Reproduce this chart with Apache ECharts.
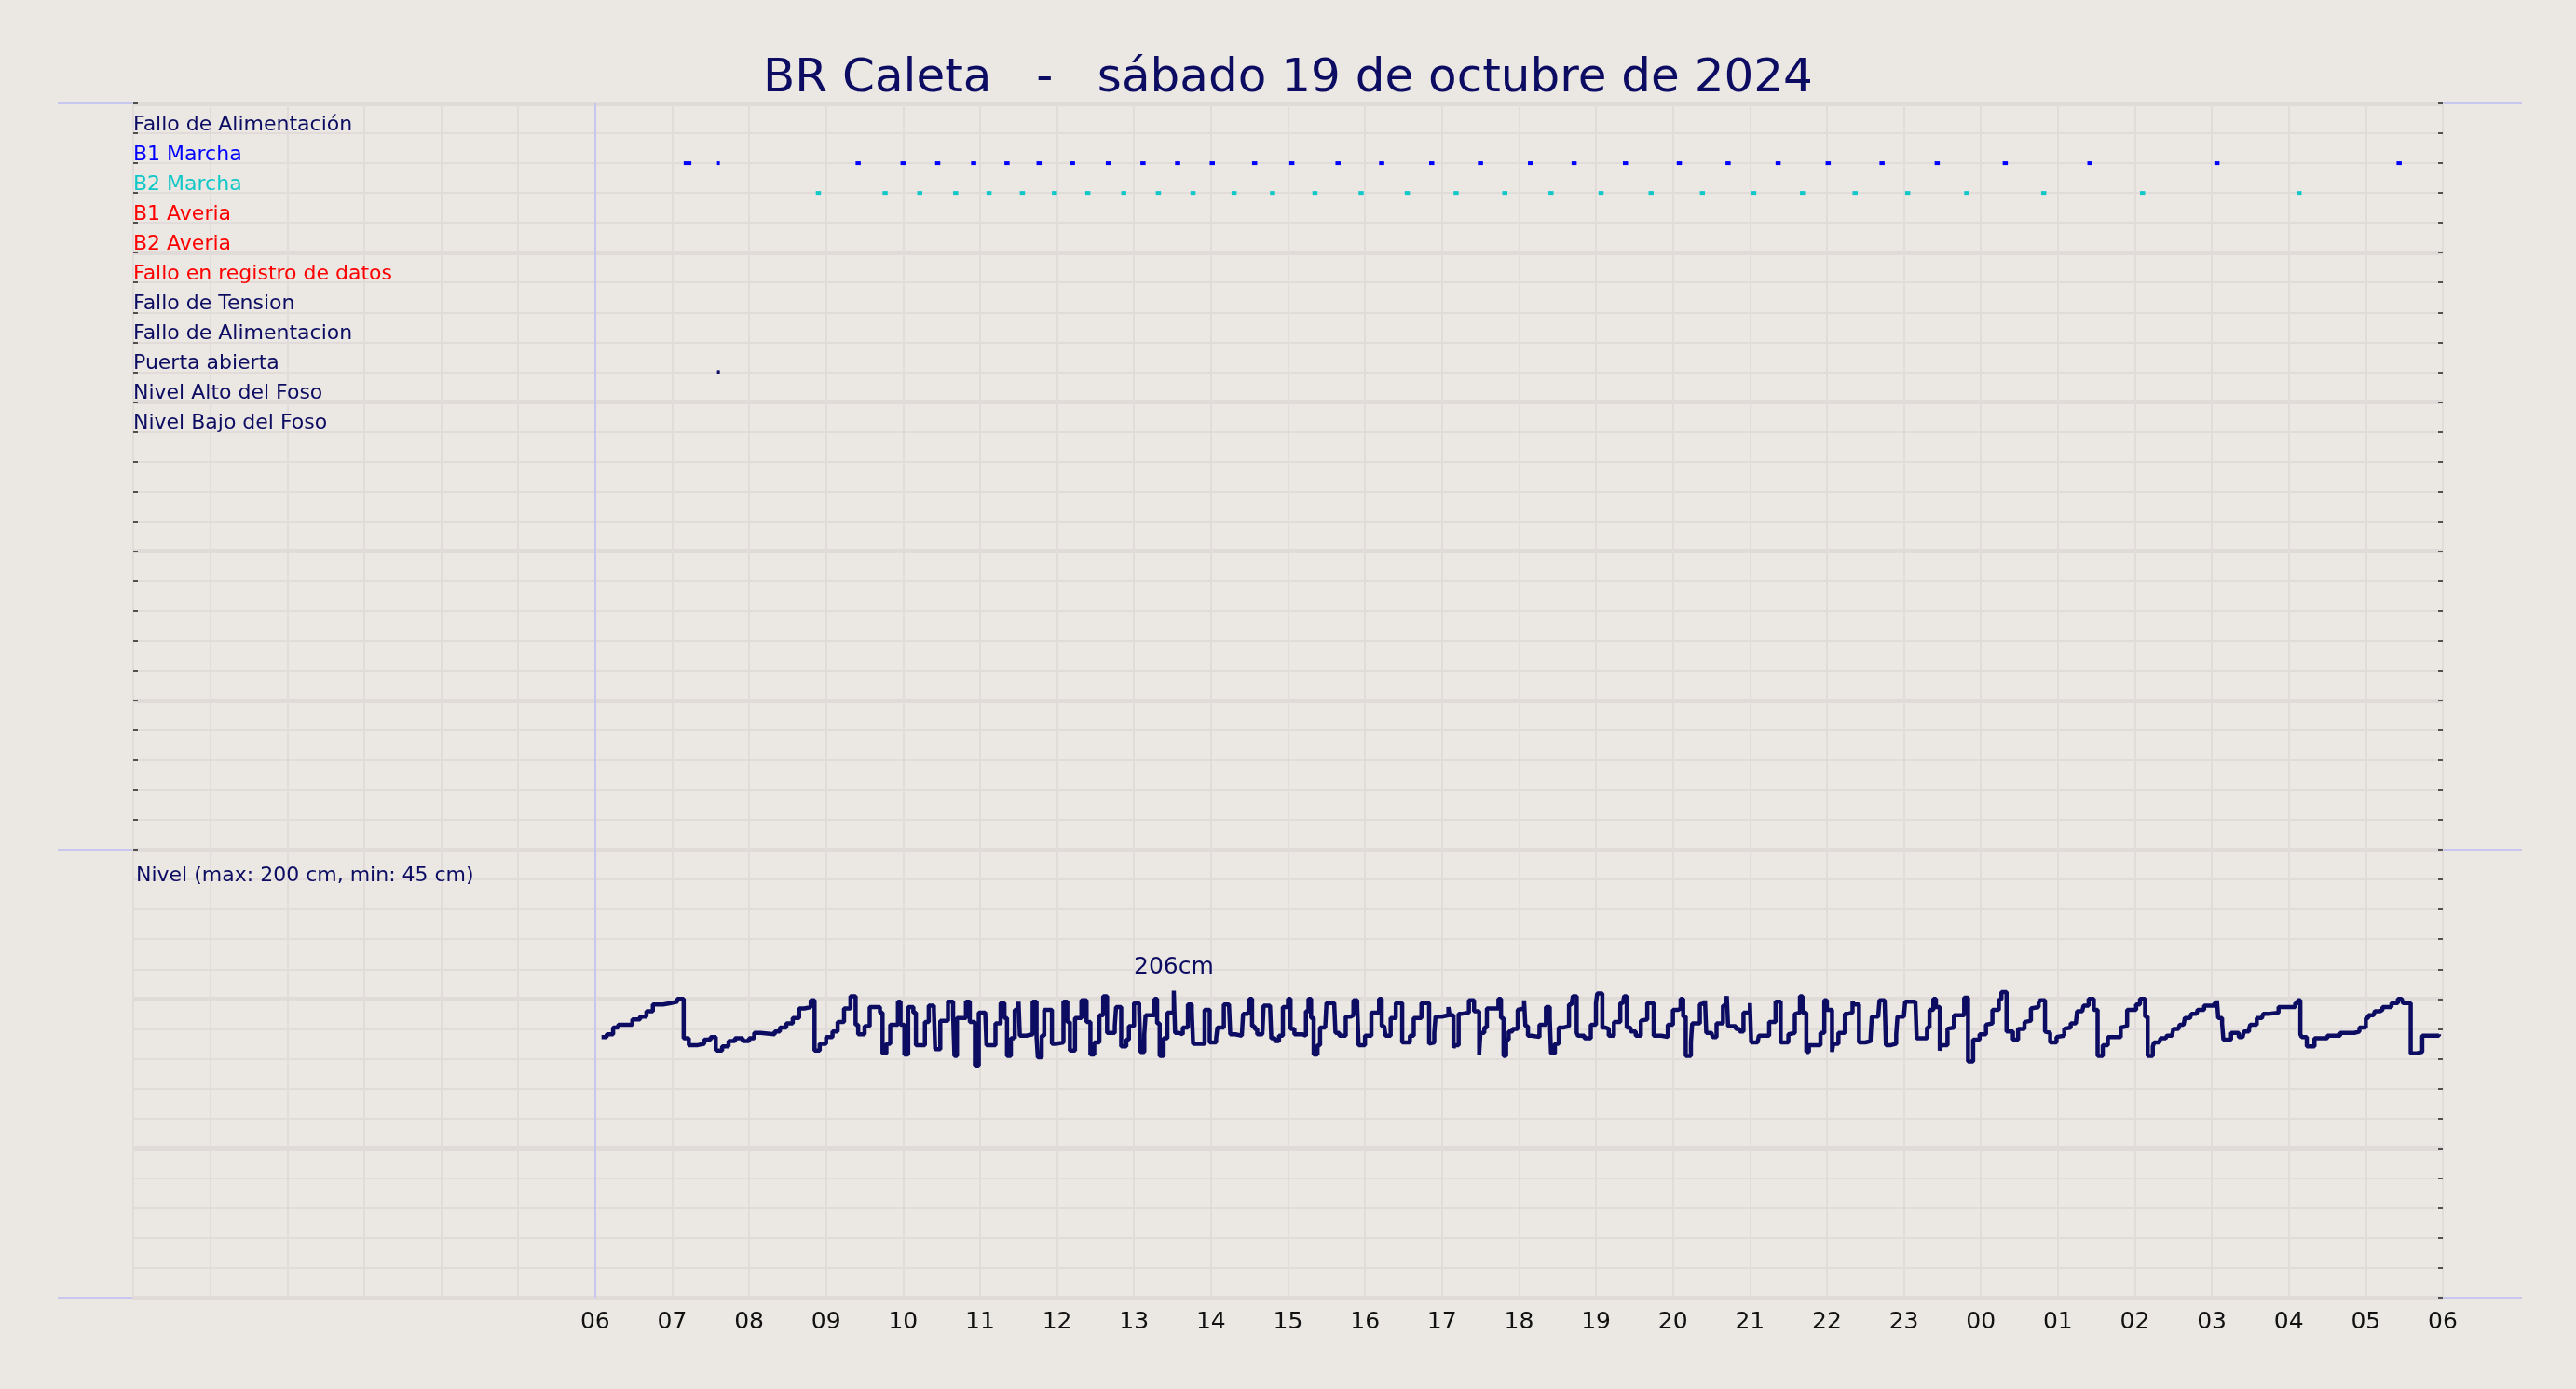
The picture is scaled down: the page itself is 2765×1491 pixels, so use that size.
<!DOCTYPE html>
<html><head><meta charset="utf-8">
<script src="https://cdn.jsdelivr.net/npm/echarts@6/dist/echarts.min.js"></script>
<style>html,body{margin:0;padding:0;background:#ebe7e2}#c{width:2765px;height:1491px}</style>
</head><body><div id="c"></div>
<script>
// time unit: minutes after 06:00 of 19 Oct 2024
const titleText = 'BR Caleta   -   sábado 19 de octubre de 2024';
const signalNames = ['Fallo de Alimentación','B1 Marcha','B2 Marcha','B1 Averia','B2 Averia','Fallo en registro de datos','Fallo de Tension','Fallo de Alimentacion','Puerta abierta','Nivel Alto del Foso','Nivel Bajo del Foso'];
const signalStyles = ['n','b','c','r','r','r','n','n','n','n','n'];
const b1Starts = [69,95,203,238,265,293,319,344,370,398,425,452,479,512,541,577,611,650,688,727,761,801,843,881,920,959,1001,1044,1097,1163,1262,1404];
const b1Durations = [6,2,4,4,4,4,4,4,4,4,4,4,4,4,4,4,4,4,4,4,4,4,4,4,4,4,4,4,4,4,4,4];
const b2Starts = [172,224,251,279,305,331,356,382,410,437,464,496,526,559,595,631,669,707,743,782,821,861,901,939,980,1021,1067,1127,1204,1326];
const b2Duration = 4;
const doorStarts = [95];
const doorDuration = 2;
const levelTimes = [5,9,14,18,29,35,40,45,53,59,64,69,73,80,85,90,94,99,104,109,115,120,124,129,140,144,149,154,159,163,168,171,175,180,185,189,194,199,203,205,210,214,222,224,227,230,236,238,241,244,248,250,255,257,260,264,265,269,273,275,279,280,282,289,292,296,299,304,305,309,312,316,319,321,324,327,330,331,336,341,344,345,348,350,354,356,359,365,368,370,374,379,383,386,389,393,396,399,402,405,406,410,414,416,420,424,425,428,429,434,436,438,440,443,446,451,452,455,458,462,465,466,471,
475,479,484,485,490,494,495,499,504,505,509,510,512,514,516,520,521,526,527,530,533,536,540,542,545,551,554,556,558,560,563,565,569,570,576,577,580,585,589,591,594,595,598,600,605,609,611,613,615,616,620,621,624,625,629,631,635,638,641,644,645,650,651,654,655,660,665,666,669,670,673,675,681,685,689,690,693,695,700,704,706,708,710,712,715,719,720,724,725,727,730,736,739,741,744,745,748,751,755,759,761,762,765,766,771,772,776,777,780,781,785,787,790,791,794,796,799,801,802,804,807,811,815,816,820,821,825,827,831,832,836,837,840,844,846,848,850,854,855,859,861,862,865,866,870,871,874,875,879,881,882,883,889,892,895,900,901,906,907,911,915,916,920,921,924,926,930,931,935,936,939,941,944,946,
955,958,960,964,965,969,970,974,976,980,981,985,990,994,995,1000,1001,1005,1006,1010,1014,1015,1020,1021,1029,1030,1034,1038,1040,1043,1045,1048,1049,1054,1055,1059,1060,1067,1070,1074,1075,1079,1080,1084,1085,1089,1090,1094,1095,1096,1100,1105,1106,1109,1110,1114,1115,1119,1120,1125,1126,1130,1131,1134,1135,1139,1140,1145,1146,1150,1154,1155,1159,1160,1162,1164,1168,1171,1175,1179,1185,1189,1190,1194,1195,1201,1202,1204,1208,1210,1214,1215,1219,1220,1224,1225,1229,1230,1234,1235,1238,1239,1243,1244,1248,1249,1252,1254,1259,1262,1264,1265,1268,1269,1273,1275,1279,1281,1284,1285,1289,1290,1293,1295,1299,1300,1304,1312,1320,1325,1327,1329,1330,1334,1340,1350,1360,1371,1375,1380,1382,1386,1387,1391,1393,1395,1400,1405,1408,1409,1415,1420,1424,1426,1437];
const levelValues = [172,174,179,181,185,187,191,196,197,198,200,171,166,167,170,172,162,165,169,171,169,171,175,174,176,179,182,186,193,194,199,162,167,172,176,183,193,202,181,174,180,194,190,160,167,181,198,181,159,194,190,166,166,183,195,192,163,184,184,198,188,158,186,198,183,151,190,189,166,166,182,197,186,158,171,192,198,173,174,198,172,157,173,192,192,167,168,198,183,162,186,199,183,159,168,188,202,175,175,180,194,165,170,180,197,192,161,174,188,188,200,182,158,171,190,206,175,174,179,196,191,167,167,
192,168,171,179,196,196,174,173,174,189,190,200,180,178,174,174,195,195,171,169,173,194,200,178,174,173,191,200,186,159,166,179,180,197,198,175,173,187,188,199,194,166,166,173,190,190,200,180,179,173,186,186,197,197,168,168,173,186,186,197,197,167,168,175,187,188,194,188,164,166,189,190,199,191,159,175,179,193,193,200,186,158,170,176,178,192,193,199,180,173,172,181,181,194,186,160,167,179,180,196,197,202,175,173,171,171,181,181,197,204,179,178,173,173,183,183,197,197,202,179,176,173,184,185,197,197,173,173,172,172,181,181,192,193,200,187,158,168,182,182,196,197,199,175,174,172,182,182,195,196,202,180,178,176,190,197,168,168,173,173,183,183,198,198,168,168,174,175,189,190,202,190,161,166,175,
199,192,161,167,175,175,189,190,198,196,168,169,171,187,187,199,199,166,167,174,187,187,198,198,171,171,179,192,200,194,162,166,178,179,188,188,201,154,170,170,174,174,181,182,192,192,199,200,205,176,170,170,178,178,183,184,193,194,197,199,176,175,168,168,172,173,178,179,182,183,191,191,195,195,200,192,158,166,172,172,179,180,192,192,196,196,200,187,158,165,168,168,171,171,173,174,178,179,181,182,186,186,189,190,192,192,195,195,197,199,186,182,170,170,175,175,172,173,176,178,181,181,186,187,189,190,194,194,197,199,174,172,165,171,173,175,176,179,186,188,189,191,192,194,194,197,200,199,197,160,161,173,173,174,176,177,178];
const hourLabels = ['00','01','02','03','04','05','06','07','08','09','10','11','12','13','14','15','16','17','18','19','20','21','22','23'];
const levelCaption = 'Nivel (max: 200 cm, min: 45 cm)';

const NAVY = '#0c0c62', GRID = '#e1dcda', FRAME = '#c6c6ee';
const levelData = levelTimes.map((t, i) => [t, levelValues[i]]);
let maxI = 0; levelValues.forEach((v, i) => { if (v > levelValues[maxI]) maxI = i; });
const lastI = levelValues.length - 1;

function events(starts, durs, row) {
  return starts.map((s, i) => [s, s + (Array.isArray(durs) ? durs[i] : durs), row]);
}
function renderDash(params, api) {
  const a = api.coord([api.value(0), api.value(2)]);
  const b = api.coord([api.value(1), api.value(2)]);
  return { type: 'rect', shape: { x: a[0], y: a[1] - 2, width: Math.max(b[0] - a[0], 3), height: 4 }, style: api.style() };
}
const xCommon = { type: 'value', min: -360, max: 1440, interval: 60, axisLine: { show: false }, axisTick: { show: false },
  splitLine: { show: true, lineStyle: { color: GRID, width: 2 } } };
const FS = 22;
const rich = { n: { color: NAVY, fontSize: FS, fontFamily: 'DejaVu Sans' }, b: { color: '#0000ff', fontSize: FS, fontFamily: 'DejaVu Sans' },
  c: { color: '#10c8c8', fontSize: FS, fontFamily: 'DejaVu Sans' }, r: { color: '#ff0000', fontSize: FS, fontFamily: 'DejaVu Sans' } };
const tickStyle = { show: true, inside: true, length: 5, lineStyle: { color: '#222', width: 1.5 } };

const option = {
  backgroundColor: '#ebe7e2',
  animation: false,
  title: [
    { text: titleText, left: 'center', top: 55, textStyle: { color: NAVY, fontSize: 50, fontWeight: 'normal', fontFamily: 'DejaVu Sans' } },
    { text: levelCaption, left: 141, top: 924, textStyle: { color: NAVY, fontSize: 22, fontWeight: 'normal', fontFamily: 'DejaVu Sans' } }
  ],
  grid: [
    { left: 143, right: 143, top: 111, height: 801 },
    { left: 143, right: 143, top: 912, bottom: 98 }
  ],
  xAxis: [
    Object.assign({ gridIndex: 0, axisLabel: { show: false } }, xCommon),
    Object.assign({ gridIndex: 1, axisLabel: { show: true, color: '#111', fontSize: 25, fontFamily: 'DejaVu Sans', margin: 14,
      formatter: v => v < 0 ? '' : hourLabels[(6 + v / 60) % 24] } }, xCommon)
  ],
  yAxis: [
    { gridIndex: 0, type: 'value', min: 0, max: 25, interval: 1, inverse: true, position: 'left', axisLine: { show: false, onZero: false },
      axisTick: tickStyle,
      axisLabel: { inside: true, margin: 0, verticalAlign: 'middle', padding: [0, 0, 18, 0], rich: rich,
        formatter: v => (v >= 1 && v <= signalNames.length) ? '{' + signalStyles[v - 1] + '|' + signalNames[v - 1] + '}' : '' },
      splitLine: { show: true, lineStyle: { color: GRID, width: 2 } } },
    { gridIndex: 0, type: 'value', min: 0, max: 25, interval: 1, inverse: true, position: 'right', axisLine: { show: false, onZero: false },
      axisTick: tickStyle, axisLabel: { show: false }, splitLine: { show: false } },
    { gridIndex: 0, type: 'value', min: 0, max: 25, interval: 5, inverse: true, axisLine: { show: false, onZero: false }, axisTick: { show: false },
      axisLabel: { show: false }, splitLine: { show: true, lineStyle: { color: '#e0dad8', width: 5 } } },
    { gridIndex: 1, type: 'value', min: -20, max: 310, interval: 22, position: 'left', axisLine: { show: false, onZero: false },
      axisTick: { show: false }, axisLabel: { show: false }, splitLine: { show: true, lineStyle: { color: GRID, width: 2 } } },
    { gridIndex: 1, type: 'value', min: -20, max: 310, interval: 22, position: 'right', axisLine: { show: false, onZero: false },
      axisTick: tickStyle, axisLabel: { show: false }, splitLine: { show: false } },
    { gridIndex: 1, type: 'value', min: -20, max: 310, interval: 110, axisLine: { show: false, onZero: false }, axisTick: { show: false },
      axisLabel: { show: false }, splitLine: { show: true, lineStyle: { color: '#e0dad8', width: 5 } } }
  ],
  series: [
    { type: 'custom', xAxisIndex: 0, yAxisIndex: 0, renderItem: renderDash, encode: { x: [0, 1], y: 2 },
      itemStyle: { color: '#0000ff' }, data: events(b1Starts, b1Durations, 2),
      markLine: { silent: true, symbol: 'none', label: { show: false }, lineStyle: { color: FRAME, width: 2, type: 'solid' }, data: [{ xAxis: 0 }] } },
    { type: 'custom', xAxisIndex: 0, yAxisIndex: 0, renderItem: renderDash, encode: { x: [0, 1], y: 2 },
      itemStyle: { color: '#10c8c8' }, data: events(b2Starts, b2Duration, 3) },
    { type: 'custom', xAxisIndex: 0, yAxisIndex: 0, renderItem: renderDash, encode: { x: [0, 1], y: 2 },
      itemStyle: { color: NAVY }, data: events(doorStarts, doorDuration, 9) },
    { type: 'line', xAxisIndex: 1, yAxisIndex: 3, step: 'end', showSymbol: false, data: levelData,
      lineStyle: { color: NAVY, width: 4.5 },
      markLine: { silent: true, symbol: 'none', label: { show: false }, lineStyle: { color: FRAME, width: 2, type: 'solid' }, data: [{ xAxis: 0 }] },
      markPoint: { symbol: 'circle', symbolSize: 2, itemStyle: { color: 'rgba(0,0,0,0)' },
        label: { color: NAVY, fontSize: 25, fontFamily: 'DejaVu Sans' },
        data: [
          { coord: levelData[maxI], value: levelValues[maxI], label: { position: 'top', distance: 12, formatter: levelValues[maxI] + 'cm' } },
          { coord: levelData[lastI], value: levelValues[lastI], label: { position: 'left', distance: 0, offset: [0, 24], formatter: levelValues[lastI] + 'cm' } }
        ] } }
  ],
  graphic: [
    { type: 'line', shape: { x1: 62, y1: 111, x2: 2707, y2: 111 }, style: { stroke: FRAME, lineWidth: 2 } },
    { type: 'line', shape: { x1: 62, y1: 912, x2: 2707, y2: 912 }, style: { stroke: FRAME, lineWidth: 2 } },
    { type: 'line', shape: { x1: 62, y1: 1393, x2: 2707, y2: 1393 }, style: { stroke: FRAME, lineWidth: 2 } }
  ]
};
echarts.init(document.getElementById('c')).setOption(option);
</script></body></html>
